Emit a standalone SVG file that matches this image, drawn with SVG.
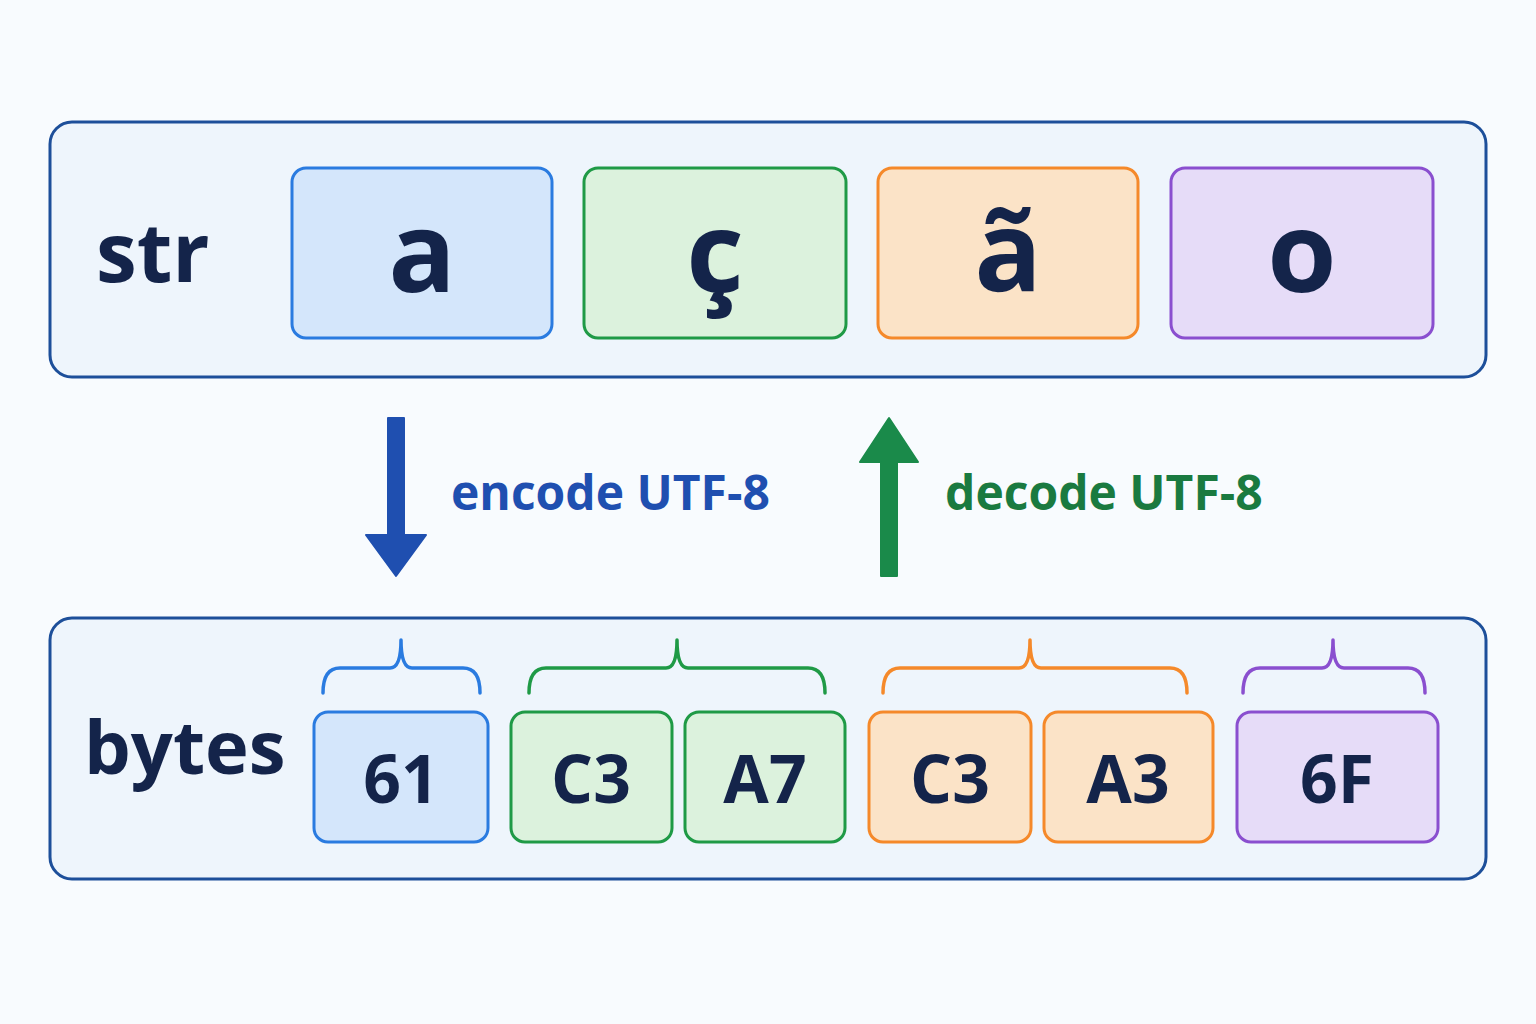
<svg xmlns="http://www.w3.org/2000/svg" width="1536" height="1024" viewBox="0 0 1536 1024">
<style>
.panel{fill:#eef5fc;stroke:#1d4f9a;stroke-width:3}
.b{fill:#d4e6fb;stroke:#2a7be0;stroke-width:3}
.g{fill:#dcf2dd;stroke:#1f9a46;stroke-width:3}
.o{fill:#fbe3c7;stroke:#f5892a;stroke-width:3}
.p{fill:#e6dcf8;stroke:#8a4fcf;stroke-width:3}
text{font-family:"Open Sans","DejaVu Sans",sans-serif;font-weight:bold;fill:#14244a}
.ch{font-size:112px;text-anchor:middle}
.by{font-size:66px;text-anchor:middle}
.br{fill:none;stroke-width:3.5;stroke-linecap:round;stroke-linejoin:round}
</style>
<rect width="1536" height="1024" fill="#f8fbfe"/>
<g id="str-panel">
<rect class="panel" x="50" y="122" width="1436" height="255" rx="22"/>
<text x="96" y="282" font-size="82">str</text>
</g>
<g id="char-a"><rect class="b" x="292" y="168" width="260" height="170" rx="14"/><text class="ch" x="422" y="292">a</text></g>
<g id="char-c"><rect class="g" x="584" y="168" width="262" height="170" rx="14"/><text class="ch" x="715" y="292">ç</text></g>
<g id="char-at"><rect class="o" x="878" y="168" width="260" height="170" rx="14"/><text class="ch" x="1008" y="292">ã</text></g>
<g id="char-o"><rect class="p" x="1171" y="168" width="262" height="170" rx="14"/><text class="ch" x="1302" y="292">o</text></g>
<g id="bytes-panel">
<rect class="panel" x="50" y="618" width="1436" height="261" rx="22"/>
<text x="84" y="774" font-size="74">bytes</text>
</g>
<g id="connectors">
<path d="M388,418 H404 V535 H426 L396,576 L366,535 H388 Z" fill="#1f4fb0" stroke="#1f4fb0" stroke-width="2" stroke-linejoin="round"/>
<path d="M881,576 H897 V462 H918 L889,418 L860,462 H881 Z" fill="#1a8a4a" stroke="#1a8a4a" stroke-width="2" stroke-linejoin="round"/>
<text x="451" y="510" font-size="48" style="fill:#1f4fb0">encode UTF-8</text>
<text x="945" y="510" font-size="48" style="fill:#1a7a40">decode UTF-8</text>
<path class="br" stroke="#2a7be0" d="M323,693 Q323,668 340,668 L390,668 Q401,668 401,640 Q401,668 412,668 L463,668 Q480,668 480,693"/>
<path class="br" stroke="#1f9a46" d="M529,693 Q529,668 546,668 L666,668 Q677,668 677,640 Q677,668 688,668 L808,668 Q825,668 825,693"/>
<path class="br" stroke="#f5892a" d="M883,693 Q883,668 900,668 L1019,668 Q1030,668 1030,640 Q1030,668 1041,668 L1170,668 Q1187,668 1187,693"/>
<path class="br" stroke="#8a4fcf" d="M1243,693 Q1243,668 1260,668 L1322,668 Q1333,668 1333,640 Q1333,668 1344,668 L1408,668 Q1425,668 1425,693"/>
</g>
<g id="byte-61"><rect class="b" x="314" y="712" width="174" height="130" rx="14"/><text class="by" x="401" y="803">61</text></g>
<g id="byte-c3a"><rect class="g" x="511" y="712" width="161" height="130" rx="14"/><text class="by" x="591" y="803">C3</text></g>
<g id="byte-a7"><rect class="g" x="685" y="712" width="160" height="130" rx="14"/><text class="by" x="765" y="803">A7</text></g>
<g id="byte-c3b"><rect class="o" x="869" y="712" width="162" height="130" rx="14"/><text class="by" x="950" y="803">C3</text></g>
<g id="byte-a3"><rect class="o" x="1044" y="712" width="169" height="130" rx="14"/><text class="by" x="1128" y="803">A3</text></g>
<g id="byte-6f"><rect class="p" x="1237" y="712" width="201" height="130" rx="14"/><text class="by" x="1337" y="803">6F</text></g>
</svg>
